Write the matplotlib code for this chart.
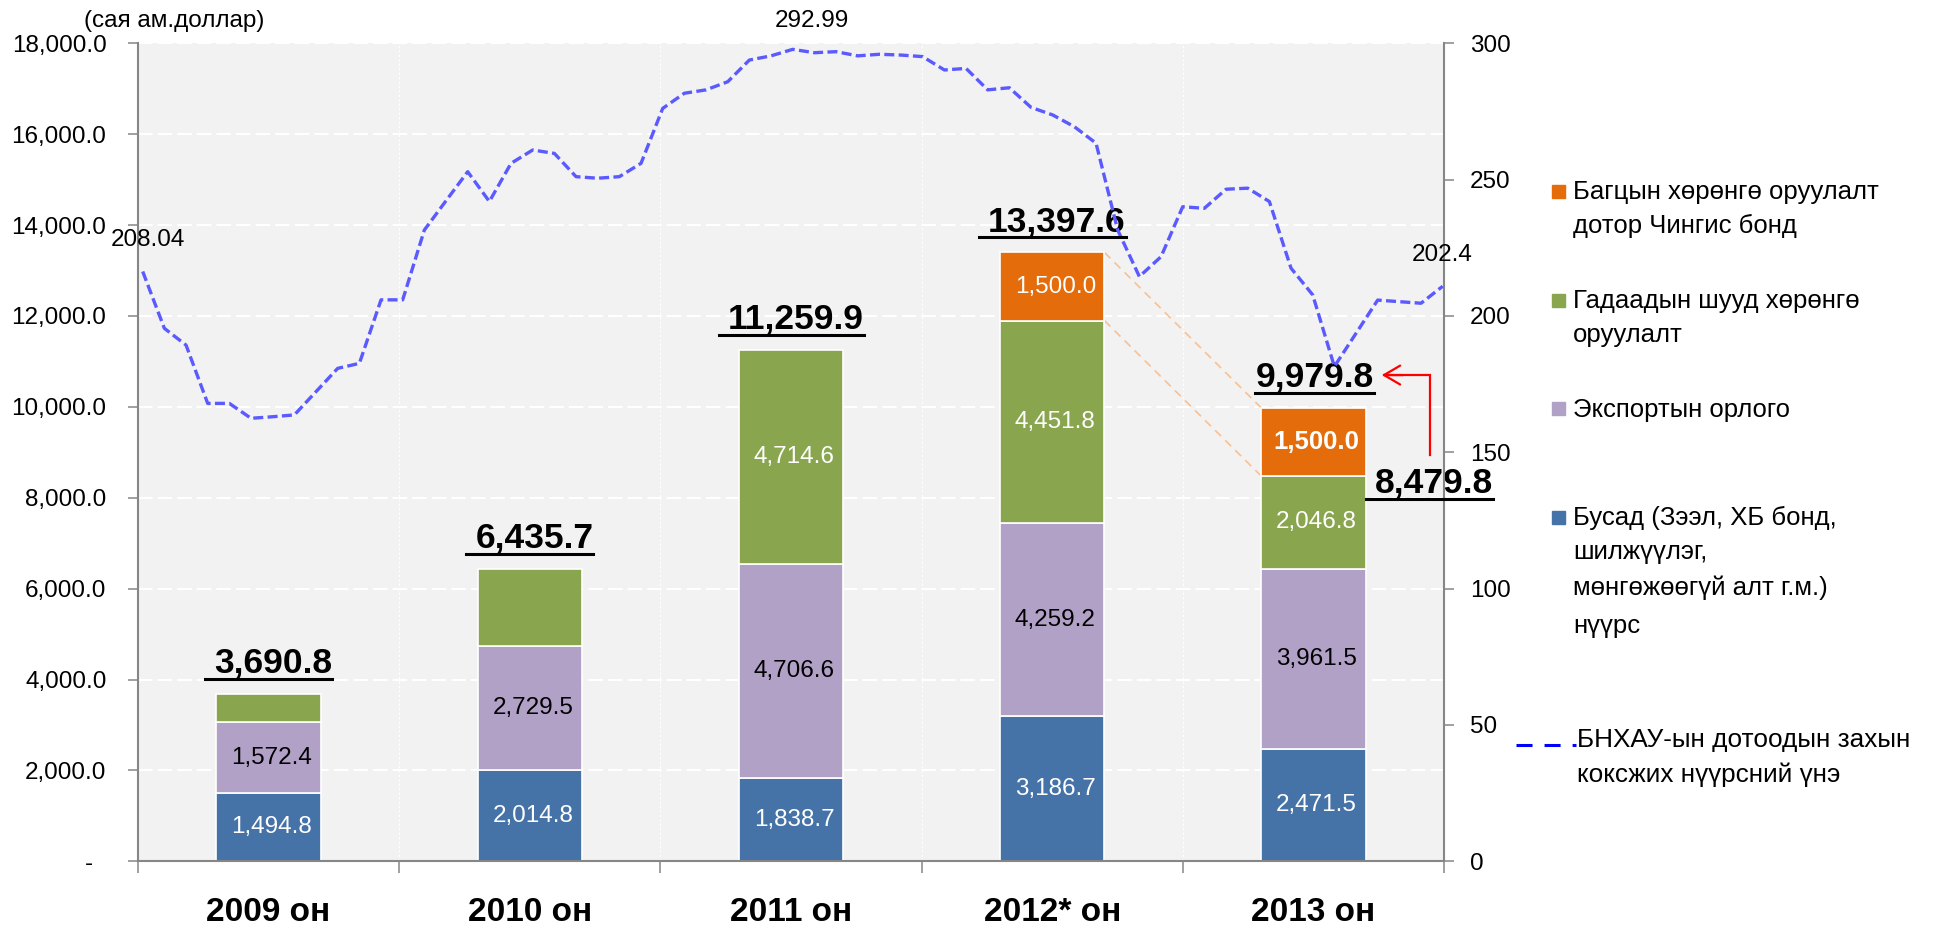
import matplotlib
matplotlib.use('Agg')
import matplotlib.pyplot as plt
from matplotlib.lines import Line2D
from matplotlib.patches import Rectangle
from matplotlib.transforms import IdentityTransform
from matplotlib.ticker import FuncFormatter, FixedLocator
import numpy as np

plt.rcParams['font.family'] = ['Liberation Sans', 'DejaVu Sans']

# ---------------- data ----------------
years = ['2009 он', '2010 он', '2011 он', '2012* он', '2013 он']
other = [1494.8, 2014.8, 1838.7, 3186.7, 2471.5]          # Бусад
export = [1572.4, 2729.5, 4706.6, 4259.2, 3961.5]         # Экспортын орлого
fdi = [623.6, 1691.4, 4714.6, 4451.8, 2046.8]             # ГШХО
chinggis = [0.0, 0.0, 0.0, 1500.0, 1500.0]                # Чингис бонд
total_labels = ['3,690.8', '6,435.7', '11,259.9', '13,397.6', '9,979.8']
fdi_labelled = [False, False, True, True, True]

coal = [208.04, 186.3, 179.9, 157.6, 157.6, 151.9, 152.5, 153.2, 162.1, 171.0,
        172.9, 197.2, 197.2, 223.9, 235.1, 246.2, 234.8, 249.4, 254.5, 253.2,
        244.3, 243.7, 244.3, 249.4, 270.4, 276.2, 277.5, 280.6, 288.9, 290.5,
        292.99, 291.7, 292.1, 290.5, 291.1, 290.8, 290.2, 285.1, 285.7, 277.5,
        278.3, 270.8, 267.9, 263.4, 257.1, 223.9, 206.1, 213.7, 232.8, 232.2,
        239.5, 239.9, 234.8, 209.3, 199.1, 171.7, 184.4, 197.1, 196.5, 195.9,
        202.4]
coal_labels = {0: '208.04', 30: '292.99', 60: '202.4'}

legend_bars = [
    ['Багцын хөрөнгө оруулалт', 'дотор Чингис бонд'],
    ['Гадаадын шууд хөрөнгө', 'оруулалт'],
    ['Экспортын орлого'],
    ['Бусад (Зээл, ХБ бонд,', 'шилжүүлэг,', 'мөнгөжөөгүй алт г.м.)', 'нүүрс'],
]
legend_line = ['БНХАУ-ын дотоодын захын', 'коксжих нүүрсний үнэ']
unit_label = '(сая ам.доллар)'

# ---------------- styles ----------------
C_BLUE = '#4572A7'
C_LAV = '#B2A1C7'
C_GREEN = '#89A54E'
C_ORANGE = '#E46C0A'
C_LINE = '#5a5aff'
C_AX = '#868686'

W, H = 1937, 927
fig = plt.figure(figsize=(W / 100, H / 100), dpi=100)
L, R, T, B = 138, 1444, 43.3, 861.3
ax = fig.add_axes([L / W, 1 - B / H, (R - L) / W, (B - T) / H])
ax.set_facecolor('#f2f2f2')

x = np.arange(len(years))
bw = 0.4
series = [(other, C_BLUE), (export, C_LAV), (fdi, C_GREEN), (chinggis, C_ORANGE)]
bottom = np.zeros(len(years))
for vals, col in series:
    v = np.array(vals)
    m = v > 0
    ax.bar(x[m], v[m], bw, bottom=bottom[m], color=col, edgecolor='white',
           linewidth=1.2, zorder=2)
    bottom = bottom + v
totals = bottom

# segment labels
cum = np.zeros(len(years))
for k, (vals, col) in enumerate(series):
    for i, v in enumerate(vals):
        if v <= 0:
            continue
        if k == 2 and not fdi_labelled[i]:
            continue
        c = 'black' if k == 1 else 'white'
        bold = (k == 3 and i == 4)
        ax.annotate(f'{v:,.1f}', xy=(i, cum[i] + v / 2), xytext=(2.2, 0),
                    textcoords='offset points', ha='center', va='center',
                    color=c, fontsize=18.5 if bold else 17.5,
                    fontweight='bold' if bold else 'normal', zorder=4)
    cum = cum + np.array(vals)

# total labels
px2pt = 0.72
total_texts = []
for i, lbl in enumerate(total_labels):
    lead = i != 4
    dx = 4.5 if lead else 1.0
    t = ax.annotate(lbl, xy=(i, totals[i]), xytext=(dx * px2pt, 21 * px2pt),
                    textcoords='offset points', ha='center', va='baseline',
                    fontsize=25.5, fontweight='bold', zorder=5)
    total_texts.append((t, i, totals[i], 21, lead))

sub13 = totals[4] - chinggis[4]
t = ax.annotate(f'{sub13:,.1f}', xy=(4 + bw / 2, sub13), xytext=(9 * px2pt, -17 * px2pt),
                textcoords='offset points', ha='left', va='baseline',
                fontsize=25.5, fontweight='bold', zorder=5, annotation_clip=False)
total_texts.append((t, 4 + bw / 2, sub13, -17, True))

# connector dashed lines 2012 -> 2013
for top12, top13 in [(totals[3], totals[4]), (totals[3] - chinggis[3], sub13)]:
    ax.plot([3 + bw / 2, 4 - bw / 2], [top12, top13], color='#fac090', lw=1.2,
            ls=(0, (5, 3.5)), zorder=1.5)

# red arrow
ARROW_X, ARROW_TIP_X = 4.447, 4.262
ARROW_Y0, ARROW_Y1 = sub13 + 460, totals[4] + 720
ax.plot([ARROW_X, ARROW_X, ARROW_TIP_X + 0.01], [ARROW_Y0, ARROW_Y1, ARROW_Y1],
        color='red', lw=1.6, zorder=5, solid_joinstyle='miter', clip_on=False)
ax.annotate('', xy=(ARROW_TIP_X, ARROW_Y1), xytext=(ARROW_TIP_X + 0.08, ARROW_Y1),
            arrowprops=dict(arrowstyle='->,head_length=0.58,head_width=0.34',
                            color='red', lw=1.6, mutation_scale=20,
                            shrinkA=0, shrinkB=0), zorder=5)

# axes formatting
ax.set_xlim(-0.5, len(years) - 0.5)
ax.set_ylim(0, 18000)
ax.set_yticks(np.arange(0, 18001, 2000))
ax.yaxis.set_major_formatter(FuncFormatter(lambda v, p: '-  ' if v == 0 else f'{v:,.1f}'))
ax.xaxis.set_major_locator(FixedLocator(np.arange(-0.5, len(years), 1.0)))
ax.xaxis.set_minor_locator(FixedLocator(x))
ax.set_xticklabels([], minor=False)
ax.set_xticks(x, years, minor=True)
ax.tick_params(axis='x', which='major', direction='out', length=8.6, width=1.1,
               color=C_AX, labelbottom=False)
ax.tick_params(axis='x', which='minor', length=0, pad=26, labelsize=24)
for lab in ax.get_xticklabels(minor=True):
    lab.set_fontweight('bold')
ax.tick_params(axis='y', direction='out', length=7.2, width=1.1, color=C_AX,
               pad=15.5, labelsize=17.5)
for s in ['top', 'right']:
    ax.spines[s].set_visible(False)
for s in ['left', 'bottom']:
    ax.spines[s].set_color(C_AX)
    ax.spines[s].set_linewidth(1.5)
ax.set_axisbelow(True)
ax.yaxis.grid(True, color='white', lw=1.5, ls=(0, (7, 2.4)))
ax.xaxis.grid(True, which='major', color='white', lw=0.8, ls=(0, (2, 2)))

# right axis
ax2 = ax.twinx()
ax2.set_ylim(0, 300)
ax2.set_yticks(np.arange(0, 301, 50))
ax2.tick_params(axis='y', direction='out', length=7, width=1.1, color=C_AX,
                pad=11.5, labelsize=17.5)
for s in ['top', 'left', 'bottom']:
    ax2.spines[s].set_visible(False)
ax2.spines['right'].set_color(C_AX)
ax2.spines['right'].set_linewidth(1.5)

# coal price line (own scale)
ax3 = fig.add_axes(ax.get_position(), frameon=False)
ax3.set_xlim(-0.217, len(coal) - 1 + 0.06)
ax3.set_ylim(-17.5, 295.3)
ax3.set_xticks([])
ax3.set_yticks([])
ax3.plot(np.arange(len(coal)), coal, color=C_LINE, lw=2.4, ls=(0, (3.0, 1.3)),
         clip_on=False)
offsets = {0: (5.3, 25.7), 30: (19.5, 22.3), 60: (-0.7, 25.3)}
for i, lbl in coal_labels.items():
    ox, oy = offsets[i]
    ax3.annotate(lbl, xy=(i, coal[i]), xytext=(ox * px2pt, oy * px2pt),
                 textcoords='offset points', ha='center', va='baseline',
                 fontsize=17.5, annotation_clip=False)

# unit label
fig.text(84 / W, 1 - 26.7 / H, unit_label, fontsize=17.5, va='baseline', ha='left')

# legend (manual)
def fxy(px, py):
    return px / W, 1 - py / H

sq_tops = [185, 294, 402, 511]
base_lines = [[199.3, 233.3], [308.3, 341.7], [416.7], [525, 559.3, 595, 633.3]]
for (vals, col), lines, top, bases in zip(series[::-1], legend_bars, sq_tops, base_lines):
    x0, y0 = fxy(1552, top + 13)
    fig.add_artist(Rectangle((x0, y0), 13 / W, 13 / H, transform=fig.transFigure,
                             color=col))
    for ln, by in zip(lines, bases):
        fx, fy = fxy(1573, by)
        fig.text(fx, fy, ln, fontsize=18.5, va='baseline', ha='left')

lx0, ly = fxy(1516, 745)
lx1, _ = fxy(1576, 745)
fig.add_artist(Line2D([lx0, lx1], [ly, ly], transform=fig.transFigure, color='#0000ff',
                      lw=2.2, ls=(0, (16 / 3.05, 12 / 3.05))))
for ln, by in zip(legend_line, [746.7, 781.7]):
    fx, fy = fxy(1577, by)
    fig.text(fx, fy, ln, fontsize=18.8, va='baseline', ha='left')

# underlines for totals
fig.canvas.draw()
renderer = fig.canvas.get_renderer()
for t, xv, yv, off, lead in total_texts:
    bb = t.get_window_extent(renderer)
    yb = ax.transData.transform((xv, yv))[1] + off
    yl = yb - 6
    fig.add_artist(Line2D([bb.x0 - (9 if lead else 0), bb.x1], [yl, yl],
                          transform=IdentityTransform(), color='black', lw=2.2))

fig.savefig('out.png', dpi=100)
